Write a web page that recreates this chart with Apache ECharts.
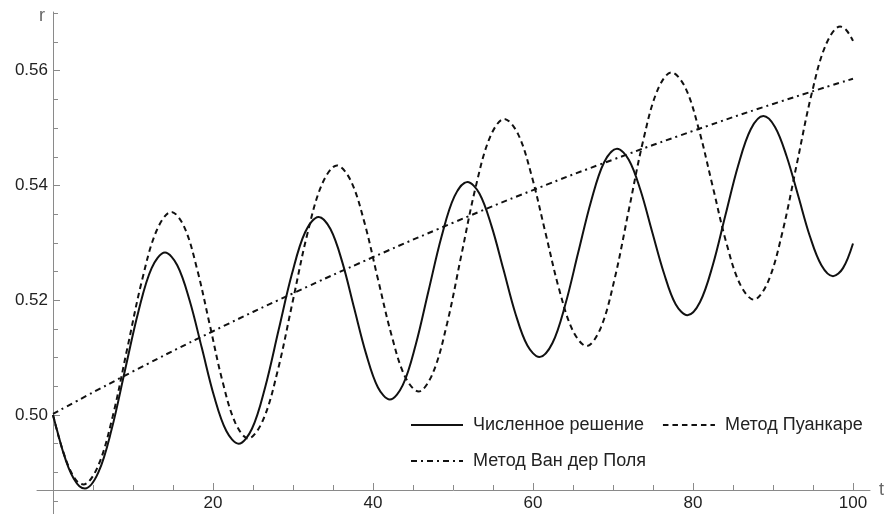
<!DOCTYPE html>
<html>
<head>
<meta charset="utf-8">
<script src="https://cdn.jsdelivr.net/npm/echarts@6/dist/echarts.min.js"></script>
<style>
html,body{margin:0;padding:0;background:#fff;}
#chart{width:887px;height:514px;}
</style>
</head>
<body>
<div id="chart"></div>
<script>
// ---- Data ----
const seriesNames = ['Численное решение', 'Метод Пуанкаре', 'Метод Ван дер Поля'];

const tSolid = [0, 0.65, 1.3, 1.95, 2.6, 3.3, 4.0,
  5.67, 7.33, 9.0, 10.67, 12.33, 14.0,
  15.53, 17.07, 18.6, 20.13, 21.67, 23.2,
  24.87, 26.53, 28.2, 29.87, 31.53, 33.2,
  34.68, 36.17, 37.65, 39.13, 40.62, 42.1,
  43.72, 45.33, 46.95, 48.57, 50.18, 51.8,
  53.3, 54.8, 56.3, 57.8, 59.3, 60.8,
  62.42, 64.03, 65.65, 67.27, 68.88, 70.5,
  71.97, 73.43, 74.9, 76.37, 77.83, 79.3,
  80.88, 82.47, 84.05, 85.63, 87.22, 88.8,
  90.25, 91.7, 93.15, 94.6, 96.05, 97.5,
  98.75, 100];
const rSolid = [0.5000, 0.4966, 0.4934, 0.4908, 0.4889, 0.4876, 0.4872,
  0.4900, 0.4975, 0.5078, 0.5180, 0.5256, 0.5283,
  0.5261, 0.5200, 0.5117, 0.5033, 0.4972, 0.4950,
  0.4976, 0.5049, 0.5148, 0.5246, 0.5319, 0.5345,
  0.5324, 0.5266, 0.5186, 0.5107, 0.5048, 0.5027,
  0.5052, 0.5122, 0.5217, 0.5311, 0.5381, 0.5406,
  0.5386, 0.5330, 0.5254, 0.5177, 0.5121, 0.5101,
  0.5125, 0.5192, 0.5283, 0.5373, 0.5440, 0.5464,
  0.5445, 0.5392, 0.5319, 0.5247, 0.5193, 0.5174,
  0.5197, 0.5261, 0.5348, 0.5434, 0.5498, 0.5521,
  0.5502, 0.5451, 0.5382, 0.5312, 0.5261, 0.5242,
  0.5256, 0.5299];

const tPoincare = [0, 0.65, 1.3, 1.95, 2.6, 3.2, 3.8,
  5.63, 7.47, 9.3, 11.13, 12.97, 14.8,
  16.4, 18.0, 19.6, 21.2, 22.8, 24.4,
  26.25, 28.1, 29.95, 31.8, 33.65, 35.5,
  37.2, 38.9, 40.6, 42.3, 44.0, 45.7,
  47.48, 49.27, 51.05, 52.83, 54.62, 56.4,
  58.12, 59.83, 61.55, 63.27, 64.98, 66.7,
  68.47, 70.23, 72.0, 73.77, 75.53, 77.3,
  79.02, 80.73, 82.45, 84.17, 85.88, 87.6,
  89.4, 91.2, 93.0, 94.8, 96.6, 98.4,
  99.2, 100];
const rPoincare = [0.5000, 0.4965, 0.4935, 0.4910, 0.4892, 0.4882, 0.4879,
  0.4911, 0.4998, 0.5117, 0.5235, 0.5322, 0.5354,
  0.5328, 0.5255, 0.5157, 0.5058, 0.4986, 0.4959,
  0.4991, 0.5078, 0.5197, 0.5316, 0.5403, 0.5435,
  0.5409, 0.5337, 0.5238, 0.5140, 0.5067, 0.5041,
  0.5073, 0.5160, 0.5279, 0.5397, 0.5484, 0.5516,
  0.5490, 0.5417, 0.5318, 0.5219, 0.5147, 0.5120,
  0.5152, 0.5239, 0.5359, 0.5478, 0.5565, 0.5597,
  0.5571, 0.5498, 0.5399, 0.5300, 0.5228, 0.5201,
  0.5233, 0.5320, 0.5439, 0.5558, 0.5645, 0.5677,
  0.5670, 0.5652];

const tVdP = [0, 10, 20, 30, 40, 50, 60, 70, 80, 90, 100];
const rVdP = [0.5002, 0.5076, 0.5146, 0.5212, 0.5275, 0.5335, 0.5392, 0.5445, 0.5495, 0.5542, 0.5586];

const xMajorTicks = [20, 40, 60, 80, 100];
const xMinorTicks = [5, 10, 15, 25, 30, 35, 45, 50, 55, 65, 70, 75, 85, 90, 95];
const yMajorTicks = [0.50, 0.52, 0.54, 0.56];
const yMinorTicks = [0.485, 0.49, 0.495, 0.505, 0.51, 0.515, 0.525, 0.53, 0.535, 0.545, 0.55, 0.555, 0.565, 0.57];

const X_RANGE = [-2, 102.125];
const Y_RANGE = [0.48275, 0.57023];

// ---- Chart ----
const zip = (xs, ys) => xs.map((x, i) => [x, ys[i]]);
const FONT = '"Liberation Sans", Arial, sans-serif';
const AXIS_COLOR = '#8a8a8a';
const LABEL_COLOR = '#222';

const chart = echarts.init(document.getElementById('chart'), null, {renderer: 'canvas'});

const xBase = {
  type: 'value', min: X_RANGE[0], max: X_RANGE[1], position: 'bottom', offset: -24,
  splitLine: {show: false}
};
const yBase = {
  type: 'value', min: Y_RANGE[0], max: Y_RANGE[1], position: 'left', offset: -16,
  splitLine: {show: false}
};

chart.setOption({
  animation: false,
  backgroundColor: '#fff',
  grid: {left: 37, right: 17, top: 12, bottom: 0, containLabel: false, outerBoundsMode: 'none'},
  legend: {
    left: 410, top: 416, width: 475, padding: 0,
    orient: 'horizontal', itemWidth: 52, itemHeight: 14, itemGap: 18,
    selectedMode: false,
    data: seriesNames,
    itemStyle: {opacity: 0},
    textStyle: {fontSize: 18, fontFamily: FONT, color: LABEL_COLOR, padding: [0, 0, 0, 5], lineHeight: 18}
  },
  xAxis: [
    Object.assign({}, xBase, {
      name: 't', nameLocation: 'end', nameGap: 9,
      nameTextStyle: {fontSize: 18, fontFamily: FONT, color: '#666', padding: [0, 0, 6, 0]},
      axisLine: {show: true, onZero: false, lineStyle: {color: AXIS_COLOR, width: 1}},
      axisTick: {show: true, inside: true, length: 7, customValues: xMajorTicks, lineStyle: {color: AXIS_COLOR}},
      axisLabel: {show: true, customValues: xMajorTicks, margin: 5, fontSize: 17, fontFamily: FONT, color: LABEL_COLOR,
        formatter: v => String(Math.round(v))}
    }),
    Object.assign({}, xBase, {
      axisLine: {show: false, onZero: false},
      axisTick: {show: true, inside: true, length: 5, customValues: xMinorTicks, lineStyle: {color: AXIS_COLOR}},
      axisLabel: {show: false}
    })
  ],
  yAxis: [
    Object.assign({}, yBase, {
      name: 'r', nameLocation: 'end', nameGap: -4,
      nameTextStyle: {fontSize: 18, fontFamily: FONT, color: '#666', align: 'right', verticalAlign: 'middle', padding: [0, 8, 0, 0]},
      axisLine: {show: true, onZero: false, lineStyle: {color: AXIS_COLOR, width: 1}},
      axisTick: {show: true, inside: true, length: 7, customValues: yMajorTicks, lineStyle: {color: AXIS_COLOR}},
      axisLabel: {show: true, customValues: yMajorTicks, margin: 5, fontSize: 17, fontFamily: FONT, color: LABEL_COLOR,
        formatter: v => v.toFixed(2)}
    }),
    Object.assign({}, yBase, {
      axisLine: {show: false, onZero: false},
      axisTick: {show: true, inside: true, length: 5, customValues: yMinorTicks, lineStyle: {color: AXIS_COLOR}},
      axisLabel: {show: false}
    })
  ],
  series: [
    {
      name: seriesNames[0], type: 'line', xAxisIndex: 0, yAxisIndex: 0,
      data: zip(tSolid, rSolid), smooth: 0.35, symbol: 'none',
      lineStyle: {color: '#111', width: 2, type: 'solid'}, itemStyle: {color: '#111'}
    },
    {
      name: seriesNames[1], type: 'line', xAxisIndex: 0, yAxisIndex: 0,
      data: zip(tPoincare, rPoincare), smooth: 0.35, symbol: 'none',
      lineStyle: {color: '#111', width: 2, type: [5.5, 4]}, itemStyle: {color: '#111'}
    },
    {
      name: seriesNames[2], type: 'line', xAxisIndex: 0, yAxisIndex: 0,
      data: zip(tVdP, rVdP), smooth: true, symbol: 'none',
      lineStyle: {color: '#111', width: 2, type: [6, 4, 2, 4]}, itemStyle: {color: '#111'}
    }
  ]
});
</script>
</body>
</html>
